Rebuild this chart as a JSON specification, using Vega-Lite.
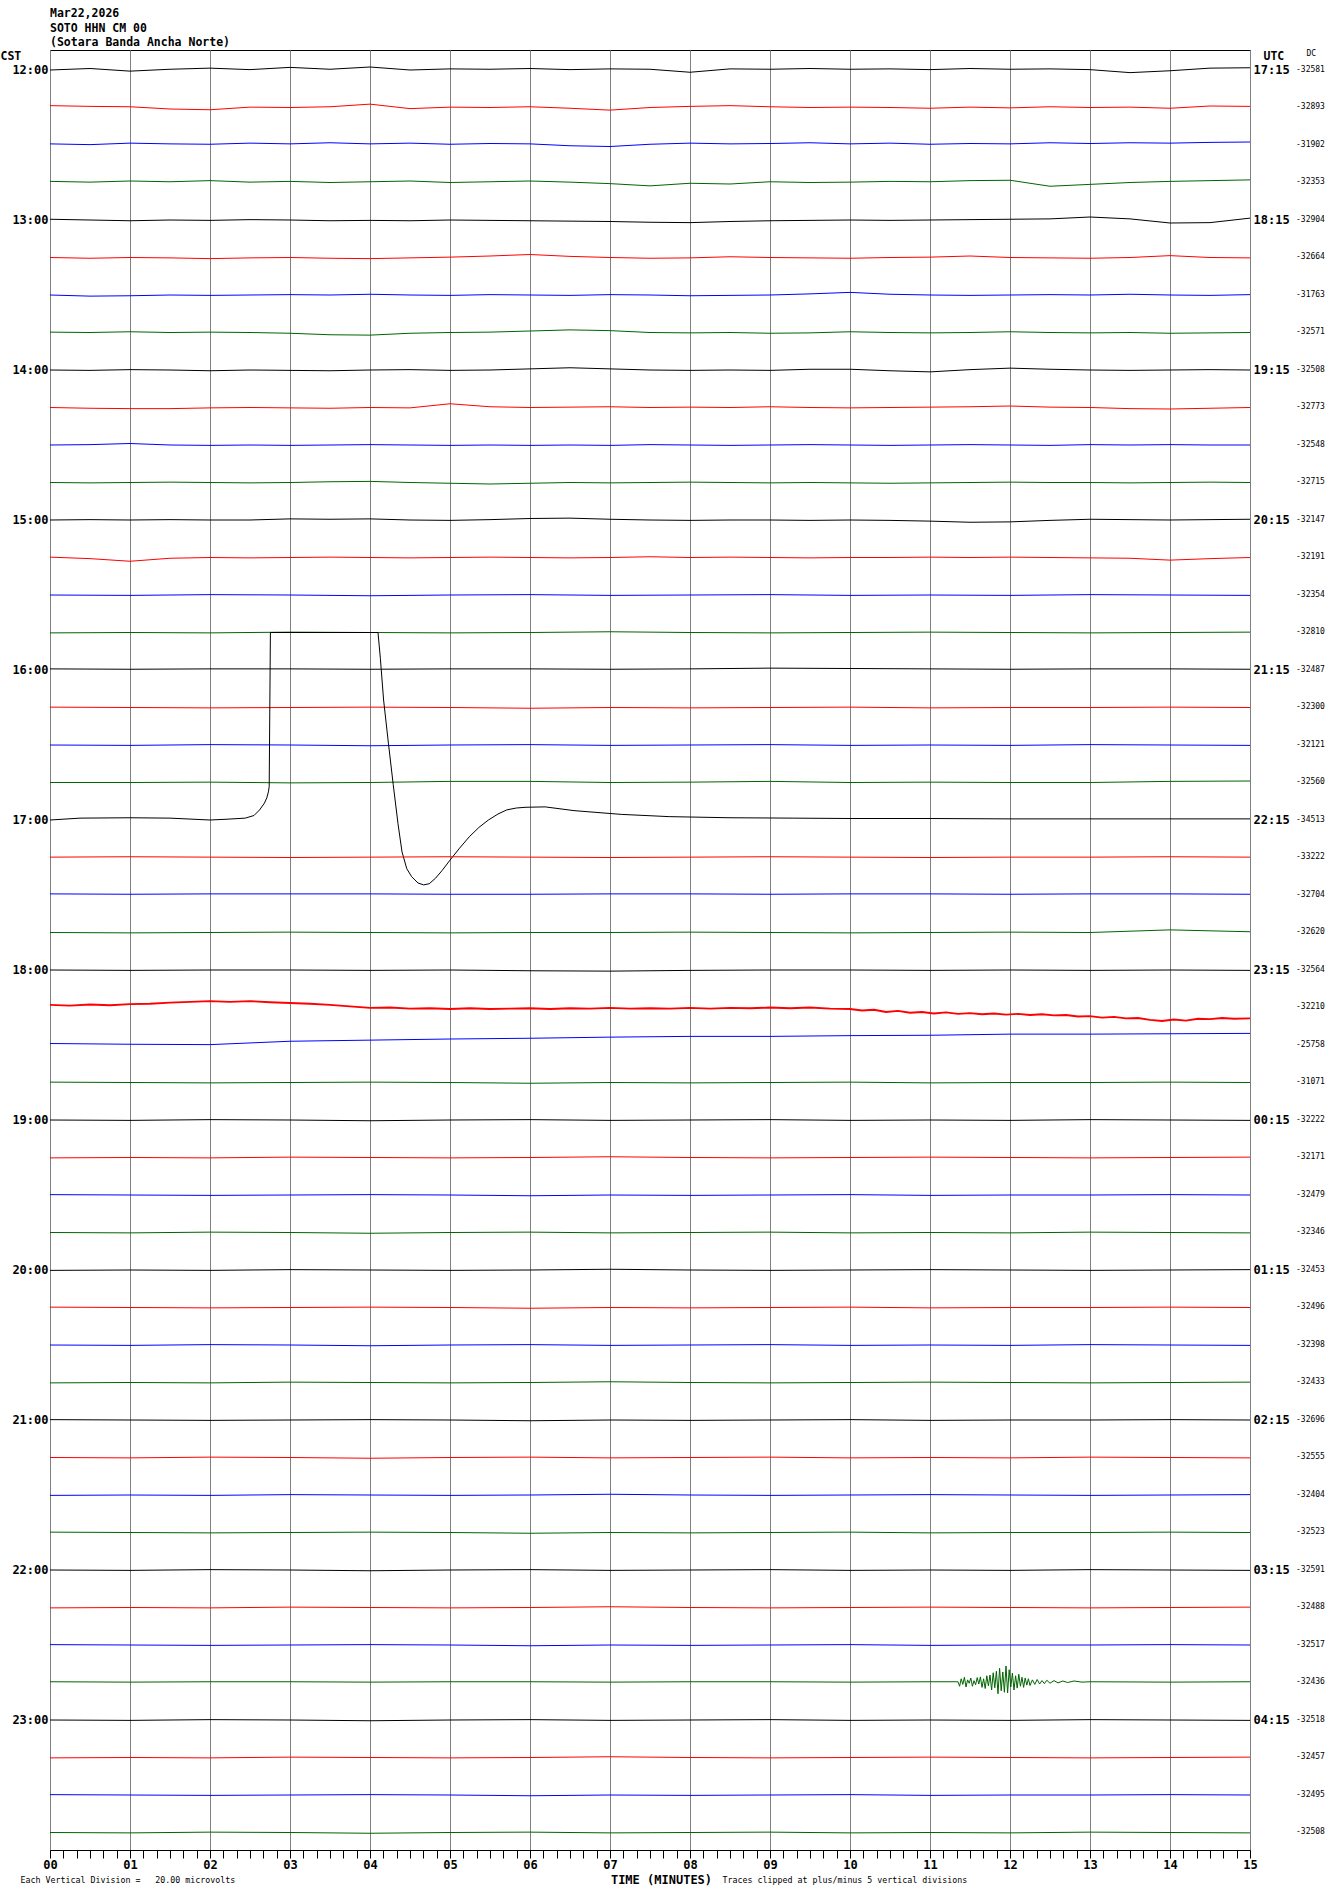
{
"$schema": "https://vega.github.io/schema/vega-lite/v6.json",
"width": 1200,
"height": 1800,
"autosize": {"type": "none"},
"padding": {"left": 50, "top": 50, "right": 80, "bottom": 44},
"background": "white",
"title": {"text": ["Mar22,2026", "SOTO HHN CM 00", "(Sotara Banda Ancha Norte)"], "anchor": "start", "frame": "group", "font": "DejaVu Sans Mono", "fontSize": 11.5, "fontWeight": "bold", "lineHeight": 14.5, "color": "#000000", "offset": 4, "dy": 3},
"config": {"view": {"stroke": "#000000", "strokeWidth": 1}, "font": "DejaVu Sans Mono"},
"resolve": {"axis": {"x": "independent", "y": "independent"}},
"data": {"values": [
{"k":0,"t":0,"y":0},{"k":0,"t":0.5,"y":-0.04},{"k":0,"t":1,"y":0.03},{"k":0,"t":1.5,"y":-0.02},{"k":0,"t":2,"y":-0.05},{"k":0,"t":2.5,"y":-0.01},{"k":0,"t":3,"y":-0.07},{"k":0,"t":3.5,"y":-0.02},{"k":0,"t":4,"y":-0.08},{"k":0,"t":4.5,"y":0},{"k":0,"t":5,"y":-0.03},{"k":0,"t":5.5,"y":-0.02},{"k":0,"t":6,"y":-0.04},{"k":0,"t":6.5,"y":-0.01},{"k":0,"t":7,"y":-0.03},{"k":0,"t":7.5,"y":-0.02},{"k":0,"t":8,"y":0.06},{"k":0,"t":8.5,"y":-0.03},{"k":0,"t":9,"y":-0.02},{"k":0,"t":9.5,"y":-0.04},{"k":0,"t":10,"y":-0.02},{"k":0,"t":10.5,"y":-0.03},{"k":0,"t":11,"y":-0.01},{"k":0,"t":11.5,"y":-0.04},{"k":0,"t":12,"y":-0.02},{"k":0,"t":12.5,"y":-0.03},{"k":0,"t":13,"y":-0.01},{"k":0,"t":13.5,"y":0.07},{"k":0,"t":14,"y":0.02},{"k":0,"t":14.5,"y":-0.05},{"k":0,"t":15,"y":-0.06},
{"k":1,"t":0,"y":0.95},{"k":1,"t":0.5,"y":0.97},{"k":1,"t":1,"y":0.98},{"k":1,"t":1.5,"y":1.04},{"k":1,"t":2,"y":1.06},{"k":1,"t":2.5,"y":0.99},{"k":1,"t":3,"y":1.0},{"k":1,"t":3.5,"y":0.98},{"k":1,"t":4,"y":0.91},{"k":1,"t":4.5,"y":1.03},{"k":1,"t":5,"y":0.99},{"k":1,"t":5.5,"y":1.0},{"k":1,"t":6,"y":0.98},{"k":1,"t":6.5,"y":1.02},{"k":1,"t":7,"y":1.07},{"k":1,"t":7.5,"y":1.0},{"k":1,"t":8,"y":0.97},{"k":1,"t":8.5,"y":0.95},{"k":1,"t":9,"y":0.98},{"k":1,"t":9.5,"y":1.0},{"k":1,"t":10,"y":0.99},{"k":1,"t":10.5,"y":1.0},{"k":1,"t":11,"y":1.02},{"k":1,"t":11.5,"y":0.99},{"k":1,"t":12,"y":1.01},{"k":1,"t":12.5,"y":0.98},{"k":1,"t":13,"y":1.0},{"k":1,"t":13.5,"y":0.99},{"k":1,"t":14,"y":1.02},{"k":1,"t":14.5,"y":0.96},{"k":1,"t":15,"y":0.97},
{"k":2,"t":0,"y":1.97},{"k":2,"t":0.5,"y":1.99},{"k":2,"t":1,"y":1.95},{"k":2,"t":1.5,"y":1.97},{"k":2,"t":2,"y":1.98},{"k":2,"t":2.5,"y":1.95},{"k":2,"t":3,"y":1.97},{"k":2,"t":3.5,"y":1.94},{"k":2,"t":4,"y":1.97},{"k":2,"t":4.5,"y":1.95},{"k":2,"t":5,"y":1.98},{"k":2,"t":5.5,"y":1.96},{"k":2,"t":6,"y":1.97},{"k":2,"t":6.5,"y":2.02},{"k":2,"t":7,"y":2.04},{"k":2,"t":7.5,"y":1.98},{"k":2,"t":8,"y":1.95},{"k":2,"t":8.5,"y":1.97},{"k":2,"t":9,"y":1.96},{"k":2,"t":9.5,"y":1.94},{"k":2,"t":10,"y":1.97},{"k":2,"t":10.5,"y":1.95},{"k":2,"t":11,"y":1.98},{"k":2,"t":11.5,"y":1.96},{"k":2,"t":12,"y":1.97},{"k":2,"t":12.5,"y":1.94},{"k":2,"t":13,"y":1.96},{"k":2,"t":13.5,"y":1.94},{"k":2,"t":14,"y":1.95},{"k":2,"t":14.5,"y":1.93},{"k":2,"t":15,"y":1.92},
{"k":3,"t":0,"y":2.97},{"k":3,"t":0.5,"y":2.99},{"k":3,"t":1,"y":2.96},{"k":3,"t":1.5,"y":2.98},{"k":3,"t":2,"y":2.95},{"k":3,"t":2.5,"y":2.99},{"k":3,"t":3,"y":2.97},{"k":3,"t":3.5,"y":3.0},{"k":3,"t":4,"y":2.98},{"k":3,"t":4.5,"y":2.96},{"k":3,"t":5,"y":3.0},{"k":3,"t":5.5,"y":2.98},{"k":3,"t":6,"y":2.96},{"k":3,"t":6.5,"y":2.99},{"k":3,"t":7,"y":3.03},{"k":3,"t":7.5,"y":3.09},{"k":3,"t":8,"y":3.02},{"k":3,"t":8.5,"y":3.04},{"k":3,"t":9,"y":2.98},{"k":3,"t":9.5,"y":3.0},{"k":3,"t":10,"y":2.99},{"k":3,"t":10.5,"y":2.97},{"k":3,"t":11,"y":2.98},{"k":3,"t":11.5,"y":2.95},{"k":3,"t":12,"y":2.94},{"k":3,"t":12.5,"y":3.1},{"k":3,"t":13,"y":3.05},{"k":3,"t":13.5,"y":3.0},{"k":3,"t":14,"y":2.97},{"k":3,"t":14.5,"y":2.95},{"k":3,"t":15,"y":2.93},
{"k":4,"t":0,"y":3.98},{"k":4,"t":0.5,"y":4.0},{"k":4,"t":1,"y":4.02},{"k":4,"t":1.5,"y":4.0},{"k":4,"t":2,"y":4.01},{"k":4,"t":2.5,"y":3.99},{"k":4,"t":3,"y":4.0},{"k":4,"t":3.5,"y":4.02},{"k":4,"t":4,"y":4.01},{"k":4,"t":4.5,"y":4.02},{"k":4,"t":5,"y":4.0},{"k":4,"t":5.5,"y":4.01},{"k":4,"t":6,"y":4.02},{"k":4,"t":6.5,"y":4.03},{"k":4,"t":7,"y":4.04},{"k":4,"t":7.5,"y":4.06},{"k":4,"t":8,"y":4.07},{"k":4,"t":8.5,"y":4.04},{"k":4,"t":9,"y":4.02},{"k":4,"t":9.5,"y":4.01},{"k":4,"t":10,"y":4.0},{"k":4,"t":10.5,"y":4.01},{"k":4,"t":11,"y":4.0},{"k":4,"t":11.5,"y":3.99},{"k":4,"t":12,"y":3.98},{"k":4,"t":12.5,"y":3.97},{"k":4,"t":13,"y":3.92},{"k":4,"t":13.5,"y":3.97},{"k":4,"t":14,"y":4.08},{"k":4,"t":14.5,"y":4.07},{"k":4,"t":15,"y":3.95},
{"k":5,"t":0,"y":5.0},{"k":5,"t":0.5,"y":5.02},{"k":5,"t":1,"y":5.0},{"k":5,"t":1.5,"y":5.01},{"k":5,"t":2,"y":5.03},{"k":5,"t":2.5,"y":5.01},{"k":5,"t":3,"y":5.0},{"k":5,"t":3.5,"y":5.02},{"k":5,"t":4,"y":5.03},{"k":5,"t":4.5,"y":5.01},{"k":5,"t":5,"y":4.99},{"k":5,"t":5.5,"y":4.96},{"k":5,"t":6,"y":4.92},{"k":5,"t":6.5,"y":4.97},{"k":5,"t":7,"y":5.0},{"k":5,"t":7.5,"y":5.02},{"k":5,"t":8,"y":5.01},{"k":5,"t":8.5,"y":4.98},{"k":5,"t":9,"y":5.0},{"k":5,"t":9.5,"y":5.01},{"k":5,"t":10,"y":5.02},{"k":5,"t":10.5,"y":5.0},{"k":5,"t":11,"y":4.99},{"k":5,"t":11.5,"y":4.96},{"k":5,"t":12,"y":5.0},{"k":5,"t":12.5,"y":5.01},{"k":5,"t":13,"y":5.02},{"k":5,"t":13.5,"y":5.0},{"k":5,"t":14,"y":4.95},{"k":5,"t":14.5,"y":5.0},{"k":5,"t":15,"y":5.01},
{"k":6,"t":0,"y":6.0},{"k":6,"t":0.5,"y":6.03},{"k":6,"t":1,"y":6.02},{"k":6,"t":1.5,"y":6.0},{"k":6,"t":2,"y":6.01},{"k":6,"t":2.5,"y":6.0},{"k":6,"t":3,"y":5.99},{"k":6,"t":3.5,"y":6.0},{"k":6,"t":4,"y":5.98},{"k":6,"t":4.5,"y":6.0},{"k":6,"t":5,"y":6.01},{"k":6,"t":5.5,"y":5.99},{"k":6,"t":6,"y":6.0},{"k":6,"t":6.5,"y":6.01},{"k":6,"t":7,"y":5.99},{"k":6,"t":7.5,"y":6.0},{"k":6,"t":8,"y":6.02},{"k":6,"t":8.5,"y":6.01},{"k":6,"t":9,"y":6.0},{"k":6,"t":9.5,"y":5.97},{"k":6,"t":10,"y":5.93},{"k":6,"t":10.5,"y":5.98},{"k":6,"t":11,"y":6.0},{"k":6,"t":11.5,"y":6.01},{"k":6,"t":12,"y":6.0},{"k":6,"t":12.5,"y":5.99},{"k":6,"t":13,"y":6.0},{"k":6,"t":13.5,"y":5.98},{"k":6,"t":14,"y":6.0},{"k":6,"t":14.5,"y":6.01},{"k":6,"t":15,"y":5.99},
{"k":7,"t":0,"y":6.99},{"k":7,"t":0.5,"y":7.0},{"k":7,"t":1,"y":6.98},{"k":7,"t":1.5,"y":7.0},{"k":7,"t":2,"y":6.99},{"k":7,"t":2.5,"y":7.0},{"k":7,"t":3,"y":7.02},{"k":7,"t":3.5,"y":7.06},{"k":7,"t":4,"y":7.07},{"k":7,"t":4.5,"y":7.02},{"k":7,"t":5,"y":7.0},{"k":7,"t":5.5,"y":6.99},{"k":7,"t":6,"y":6.96},{"k":7,"t":6.5,"y":6.93},{"k":7,"t":7,"y":6.95},{"k":7,"t":7.5,"y":7.0},{"k":7,"t":8,"y":7.01},{"k":7,"t":8.5,"y":7.0},{"k":7,"t":9,"y":7.02},{"k":7,"t":9.5,"y":7.01},{"k":7,"t":10,"y":6.98},{"k":7,"t":10.5,"y":7.0},{"k":7,"t":11,"y":7.01},{"k":7,"t":11.5,"y":7.0},{"k":7,"t":12,"y":6.98},{"k":7,"t":12.5,"y":7.0},{"k":7,"t":13,"y":7.01},{"k":7,"t":13.5,"y":7.0},{"k":7,"t":14,"y":7.02},{"k":7,"t":14.5,"y":7.01},{"k":7,"t":15,"y":7.0},
{"k":8,"t":0,"y":8.0},{"k":8,"t":0.5,"y":8.01},{"k":8,"t":1,"y":7.99},{"k":8,"t":1.5,"y":8.0},{"k":8,"t":2,"y":8.02},{"k":8,"t":2.5,"y":8.0},{"k":8,"t":3,"y":8.01},{"k":8,"t":3.5,"y":8.02},{"k":8,"t":4,"y":8.0},{"k":8,"t":4.5,"y":7.99},{"k":8,"t":5,"y":8.01},{"k":8,"t":5.5,"y":8.0},{"k":8,"t":6,"y":7.97},{"k":8,"t":6.5,"y":7.94},{"k":8,"t":7,"y":7.97},{"k":8,"t":7.5,"y":8.0},{"k":8,"t":8,"y":8.01},{"k":8,"t":8.5,"y":8.0},{"k":8,"t":9,"y":8.01},{"k":8,"t":9.5,"y":7.98},{"k":8,"t":10,"y":7.98},{"k":8,"t":10.5,"y":8.02},{"k":8,"t":11,"y":8.05},{"k":8,"t":11.5,"y":7.99},{"k":8,"t":12,"y":7.95},{"k":8,"t":12.5,"y":7.98},{"k":8,"t":13,"y":8.0},{"k":8,"t":13.5,"y":8.01},{"k":8,"t":14,"y":8.0},{"k":8,"t":14.5,"y":7.99},{"k":8,"t":15,"y":8.0},
{"k":9,"t":0,"y":9.0},{"k":9,"t":0.5,"y":9.02},{"k":9,"t":1,"y":9.03},{"k":9,"t":1.5,"y":9.03},{"k":9,"t":2,"y":9.01},{"k":9,"t":2.5,"y":9.0},{"k":9,"t":3,"y":9.01},{"k":9,"t":3.5,"y":9.02},{"k":9,"t":4,"y":9.0},{"k":9,"t":4.5,"y":9.01},{"k":9,"t":5,"y":8.9},{"k":9,"t":5.5,"y":8.98},{"k":9,"t":6,"y":9.0},{"k":9,"t":6.5,"y":8.99},{"k":9,"t":7,"y":8.98},{"k":9,"t":7.5,"y":9.0},{"k":9,"t":8,"y":8.99},{"k":9,"t":8.5,"y":9.0},{"k":9,"t":9,"y":8.98},{"k":9,"t":9.5,"y":9.0},{"k":9,"t":10,"y":9.01},{"k":9,"t":10.5,"y":9.0},{"k":9,"t":11,"y":8.99},{"k":9,"t":11.5,"y":8.98},{"k":9,"t":12,"y":8.96},{"k":9,"t":12.5,"y":8.99},{"k":9,"t":13,"y":9.0},{"k":9,"t":13.5,"y":9.03},{"k":9,"t":14,"y":9.04},{"k":9,"t":14.5,"y":9.02},{"k":9,"t":15,"y":9.0},
{"k":10,"t":0,"y":10.0},{"k":10,"t":0.5,"y":9.99},{"k":10,"t":1,"y":9.96},{"k":10,"t":1.5,"y":10.0},{"k":10,"t":2,"y":10.01},{"k":10,"t":2.5,"y":10.0},{"k":10,"t":3,"y":10.01},{"k":10,"t":3.5,"y":10.0},{"k":10,"t":4,"y":9.99},{"k":10,"t":4.5,"y":10.0},{"k":10,"t":5,"y":10.01},{"k":10,"t":5.5,"y":10.0},{"k":10,"t":6,"y":10.01},{"k":10,"t":6.5,"y":10.0},{"k":10,"t":7,"y":10.01},{"k":10,"t":7.5,"y":9.99},{"k":10,"t":8,"y":10.0},{"k":10,"t":8.5,"y":10.01},{"k":10,"t":9,"y":10.0},{"k":10,"t":9.5,"y":9.99},{"k":10,"t":10,"y":10.0},{"k":10,"t":10.5,"y":10.01},{"k":10,"t":11,"y":10.0},{"k":10,"t":11.5,"y":9.99},{"k":10,"t":12,"y":10.0},{"k":10,"t":12.5,"y":10.01},{"k":10,"t":13,"y":9.99},{"k":10,"t":13.5,"y":10.0},{"k":10,"t":14,"y":9.99},{"k":10,"t":14.5,"y":10.0},{"k":10,"t":15,"y":10.0},
{"k":11,"t":0,"y":11.0},{"k":11,"t":0.5,"y":11.01},{"k":11,"t":1,"y":11.0},{"k":11,"t":1.5,"y":10.99},{"k":11,"t":2,"y":11.0},{"k":11,"t":2.5,"y":11.01},{"k":11,"t":3,"y":11.0},{"k":11,"t":3.5,"y":10.98},{"k":11,"t":4,"y":10.97},{"k":11,"t":4.5,"y":11.0},{"k":11,"t":5,"y":11.02},{"k":11,"t":5.5,"y":11.04},{"k":11,"t":6,"y":11.02},{"k":11,"t":6.5,"y":11.0},{"k":11,"t":7,"y":11.01},{"k":11,"t":7.5,"y":11.0},{"k":11,"t":8,"y":10.99},{"k":11,"t":8.5,"y":11.0},{"k":11,"t":9,"y":11.01},{"k":11,"t":9.5,"y":11.0},{"k":11,"t":10,"y":11.01},{"k":11,"t":10.5,"y":11.02},{"k":11,"t":11,"y":11.01},{"k":11,"t":11.5,"y":11.0},{"k":11,"t":12,"y":10.99},{"k":11,"t":12.5,"y":11.0},{"k":11,"t":13,"y":11.0},{"k":11,"t":13.5,"y":11.01},{"k":11,"t":14,"y":11.0},{"k":11,"t":14.5,"y":10.99},{"k":11,"t":15,"y":11.0},
{"k":12,"t":0,"y":12.0},{"k":12,"t":0.5,"y":11.99},{"k":12,"t":1,"y":12.0},{"k":12,"t":1.5,"y":11.99},{"k":12,"t":2,"y":12.0},{"k":12,"t":2.5,"y":12.0},{"k":12,"t":3,"y":11.97},{"k":12,"t":3.5,"y":11.98},{"k":12,"t":4,"y":11.97},{"k":12,"t":4.5,"y":12.0},{"k":12,"t":5,"y":12.01},{"k":12,"t":5.5,"y":11.99},{"k":12,"t":6,"y":11.96},{"k":12,"t":6.5,"y":11.95},{"k":12,"t":7,"y":11.98},{"k":12,"t":7.5,"y":12.0},{"k":12,"t":8,"y":12.01},{"k":12,"t":8.5,"y":12.0},{"k":12,"t":9,"y":12.0},{"k":12,"t":9.5,"y":12.01},{"k":12,"t":10,"y":12.0},{"k":12,"t":10.5,"y":12.01},{"k":12,"t":11,"y":12.03},{"k":12,"t":11.5,"y":12.06},{"k":12,"t":12,"y":12.05},{"k":12,"t":12.5,"y":12.01},{"k":12,"t":13,"y":11.98},{"k":12,"t":13.5,"y":11.99},{"k":12,"t":14,"y":12.0},{"k":12,"t":14.5,"y":11.99},{"k":12,"t":15,"y":11.98},
{"k":13,"t":0,"y":12.99},{"k":13,"t":0.5,"y":13.03},{"k":13,"t":1,"y":13.1},{"k":13,"t":1.5,"y":13.02},{"k":13,"t":2,"y":13.0},{"k":13,"t":2.5,"y":13.01},{"k":13,"t":3,"y":13.0},{"k":13,"t":3.5,"y":12.99},{"k":13,"t":4,"y":13.0},{"k":13,"t":4.5,"y":13.01},{"k":13,"t":5,"y":13.0},{"k":13,"t":5.5,"y":12.99},{"k":13,"t":6,"y":13.0},{"k":13,"t":6.5,"y":13.01},{"k":13,"t":7,"y":13.0},{"k":13,"t":7.5,"y":12.98},{"k":13,"t":8,"y":13.0},{"k":13,"t":8.5,"y":12.99},{"k":13,"t":9,"y":13.0},{"k":13,"t":9.5,"y":13.01},{"k":13,"t":10,"y":13.0},{"k":13,"t":10.5,"y":13.0},{"k":13,"t":11,"y":12.99},{"k":13,"t":11.5,"y":13.0},{"k":13,"t":12,"y":12.99},{"k":13,"t":12.5,"y":13.0},{"k":13,"t":13,"y":13.01},{"k":13,"t":13.5,"y":13.02},{"k":13,"t":14,"y":13.07},{"k":13,"t":14.5,"y":13.03},{"k":13,"t":15,"y":13.0},
{"k":14,"t":0,"y":14},{"k":14,"t":1,"y":14.01},{"k":14,"t":2,"y":13.99},{"k":14,"t":3,"y":14},{"k":14,"t":4,"y":14.02},{"k":14,"t":5,"y":14},{"k":14,"t":6,"y":13.99},{"k":14,"t":7,"y":14.01},{"k":14,"t":8,"y":14},{"k":14,"t":9,"y":13.99},{"k":14,"t":10,"y":14.01},{"k":14,"t":11,"y":14},{"k":14,"t":12,"y":14.01},{"k":14,"t":13,"y":13.99},{"k":14,"t":14,"y":14},{"k":14,"t":15,"y":14.01},
{"k":15,"t":0,"y":15.01},{"k":15,"t":1,"y":15},{"k":15,"t":2,"y":15.01},{"k":15,"t":3,"y":14.99},{"k":15,"t":4,"y":15},{"k":15,"t":5,"y":15.01},{"k":15,"t":6,"y":15},{"k":15,"t":7,"y":14.98},{"k":15,"t":8,"y":15},{"k":15,"t":9,"y":15.01},{"k":15,"t":10,"y":15},{"k":15,"t":11,"y":14.99},{"k":15,"t":12,"y":15},{"k":15,"t":13,"y":15.01},{"k":15,"t":14,"y":15},{"k":15,"t":15,"y":14.99},
{"k":16,"t":0,"y":15.97},{"k":16,"t":1,"y":15.98},{"k":16,"t":2,"y":15.97},{"k":16,"t":3,"y":15.97},{"k":16,"t":4,"y":15.98},{"k":16,"t":5,"y":15.97},{"k":16,"t":6,"y":15.97},{"k":16,"t":7,"y":15.98},{"k":16,"t":8,"y":15.97},{"k":16,"t":9,"y":15.95},{"k":16,"t":10,"y":15.96},{"k":16,"t":11,"y":15.97},{"k":16,"t":12,"y":15.98},{"k":16,"t":13,"y":15.97},{"k":16,"t":14,"y":15.97},{"k":16,"t":15,"y":15.98},
{"k":17,"t":0,"y":16.99},{"k":17,"t":1,"y":17},{"k":17,"t":2,"y":17.01},{"k":17,"t":3,"y":17},{"k":17,"t":4,"y":16.99},{"k":17,"t":5,"y":17},{"k":17,"t":6,"y":17.02},{"k":17,"t":7,"y":17},{"k":17,"t":8,"y":17.01},{"k":17,"t":9,"y":17},{"k":17,"t":10,"y":16.99},{"k":17,"t":11,"y":17.01},{"k":17,"t":12,"y":17},{"k":17,"t":13,"y":17},{"k":17,"t":14,"y":16.99},{"k":17,"t":15,"y":17},
{"k":18,"t":0,"y":18},{"k":18,"t":1,"y":18.01},{"k":18,"t":2,"y":17.99},{"k":18,"t":3,"y":18},{"k":18,"t":4,"y":18.02},{"k":18,"t":5,"y":18},{"k":18,"t":6,"y":17.99},{"k":18,"t":7,"y":18.01},{"k":18,"t":8,"y":18},{"k":18,"t":9,"y":17.99},{"k":18,"t":10,"y":18.01},{"k":18,"t":11,"y":18},{"k":18,"t":12,"y":18.01},{"k":18,"t":13,"y":17.99},{"k":18,"t":14,"y":18},{"k":18,"t":15,"y":18.01},
{"k":19,"t":0,"y":19.0},{"k":19,"t":1,"y":19.0},{"k":19,"t":2,"y":18.99},{"k":19,"t":3,"y":19.01},{"k":19,"t":4,"y":19.0},{"k":19,"t":5,"y":18.97},{"k":19,"t":6,"y":18.97},{"k":19,"t":7,"y":19.0},{"k":19,"t":8,"y":18.99},{"k":19,"t":9,"y":18.97},{"k":19,"t":10,"y":19.0},{"k":19,"t":11,"y":18.99},{"k":19,"t":12,"y":19.0},{"k":19,"t":13,"y":19.0},{"k":19,"t":14,"y":18.97},{"k":19,"t":15,"y":18.96},
{"k":20,"t":0,"y":20.0},{"k":20,"t":0.375,"y":19.95},{"k":20,"t":1,"y":19.94},{"k":20,"t":1.5,"y":19.95},{"k":20,"t":2,"y":20.0},{"k":20,"t":2.2,"y":19.98},{"k":20,"t":2.44,"y":19.95},{"k":20,"t":2.55,"y":19.88},{"k":20,"t":2.62,"y":19.73},{"k":20,"t":2.68,"y":19.55},{"k":20,"t":2.71,"y":19.41},{"k":20,"t":2.73,"y":19.25},{"k":20,"t":2.74,"y":19.11},{"k":20,"t":2.755,"y":15.0},{"k":20,"t":4.1,"y":15.0},{"k":20,"t":4.13,"y":15.7},{"k":20,"t":4.17,"y":16.8},{"k":20,"t":4.23,"y":17.95},{"k":20,"t":4.29,"y":19.05},{"k":20,"t":4.35,"y":20.1},{"k":20,"t":4.4,"y":20.85},{"k":20,"t":4.46,"y":21.3},{"k":20,"t":4.52,"y":21.51},{"k":20,"t":4.6,"y":21.68},{"k":20,"t":4.67,"y":21.73},{"k":20,"t":4.74,"y":21.7},{"k":20,"t":4.82,"y":21.55},{"k":20,"t":4.9,"y":21.35},{"k":20,"t":5.0,"y":21.07},{"k":20,"t":5.12,"y":20.75},{"k":20,"t":5.24,"y":20.45},{"k":20,"t":5.36,"y":20.2},{"k":20,"t":5.48,"y":20.0},{"k":20,"t":5.6,"y":19.84},{"k":20,"t":5.71,"y":19.73},{"k":20,"t":5.83,"y":19.68},{"k":20,"t":5.95,"y":19.66},{"k":20,"t":6.19,"y":19.65},{"k":20,"t":6.55,"y":19.75},{"k":20,"t":7.14,"y":19.85},{"k":20,"t":7.74,"y":19.91},{"k":20,"t":8.5,"y":19.94},{"k":20,"t":9.29,"y":19.95},{"k":20,"t":10,"y":19.96},{"k":20,"t":11,"y":19.96},{"k":20,"t":12,"y":19.97},{"k":20,"t":13,"y":19.97},{"k":20,"t":14,"y":19.97},{"k":20,"t":15,"y":19.97},
{"k":21,"t":0,"y":20.99},{"k":21,"t":1,"y":20.98},{"k":21,"t":2,"y":20.99},{"k":21,"t":3,"y":21.0},{"k":21,"t":4,"y":20.99},{"k":21,"t":5,"y":20.98},{"k":21,"t":6,"y":20.99},{"k":21,"t":7,"y":21.0},{"k":21,"t":8,"y":20.99},{"k":21,"t":9,"y":20.98},{"k":21,"t":10,"y":20.99},{"k":21,"t":11,"y":21.0},{"k":21,"t":12,"y":20.99},{"k":21,"t":13,"y":20.99},{"k":21,"t":14,"y":20.98},{"k":21,"t":15,"y":20.99},
{"k":22,"t":0,"y":21.97},{"k":22,"t":1,"y":21.98},{"k":22,"t":2,"y":21.97},{"k":22,"t":3,"y":21.97},{"k":22,"t":4,"y":21.97},{"k":22,"t":5,"y":21.98},{"k":22,"t":6,"y":21.98},{"k":22,"t":7,"y":21.97},{"k":22,"t":8,"y":21.97},{"k":22,"t":9,"y":21.98},{"k":22,"t":10,"y":21.97},{"k":22,"t":11,"y":21.97},{"k":22,"t":12,"y":21.98},{"k":22,"t":13,"y":21.97},{"k":22,"t":14,"y":21.97},{"k":22,"t":15,"y":21.98},
{"k":23,"t":0,"y":23},{"k":23,"t":1,"y":23.01},{"k":23,"t":2,"y":23},{"k":23,"t":3,"y":22.99},{"k":23,"t":4,"y":23},{"k":23,"t":5,"y":23.01},{"k":23,"t":6,"y":23},{"k":23,"t":7,"y":23},{"k":23,"t":8,"y":22.99},{"k":23,"t":9,"y":23},{"k":23,"t":10,"y":23.01},{"k":23,"t":11,"y":23},{"k":23,"t":12,"y":22.99},{"k":23,"t":13,"y":23},{"k":23,"t":14,"y":22.93},{"k":23,"t":15,"y":22.98},
{"k":24,"t":0,"y":24},{"k":24,"t":1,"y":24.01},{"k":24,"t":2,"y":24},{"k":24,"t":3,"y":24},{"k":24,"t":4,"y":24.01},{"k":24,"t":5,"y":24},{"k":24,"t":6,"y":24.02},{"k":24,"t":7,"y":24.03},{"k":24,"t":8,"y":24.01},{"k":24,"t":9,"y":24},{"k":24,"t":10,"y":24},{"k":24,"t":11,"y":24.01},{"k":24,"t":12,"y":24},{"k":24,"t":13,"y":24.01},{"k":24,"t":14,"y":24},{"k":24,"t":15,"y":24.01},
{"k":25,"t":0,"y":24.93},{"k":25,"t":0.25,"y":24.95},{"k":25,"t":0.5,"y":24.92},{"k":25,"t":0.75,"y":24.94},{"k":25,"t":1,"y":24.91},{"k":25,"t":1.25,"y":24.9},{"k":25,"t":1.5,"y":24.87},{"k":25,"t":1.75,"y":24.85},{"k":25,"t":2,"y":24.83},{"k":25,"t":2.25,"y":24.85},{"k":25,"t":2.5,"y":24.83},{"k":25,"t":2.75,"y":24.86},{"k":25,"t":3,"y":24.88},{"k":25,"t":3.25,"y":24.9},{"k":25,"t":3.5,"y":24.93},{"k":25,"t":3.75,"y":24.97},{"k":25,"t":4,"y":25.01},{"k":25,"t":4.25,"y":25.0},{"k":25,"t":4.5,"y":25.03},{"k":25,"t":4.75,"y":25.02},{"k":25,"t":5,"y":25.04},{"k":25,"t":5.25,"y":25.02},{"k":25,"t":5.5,"y":25.04},{"k":25,"t":5.75,"y":25.03},{"k":25,"t":6,"y":25.02},{"k":25,"t":6.25,"y":25.04},{"k":25,"t":6.5,"y":25.02},{"k":25,"t":6.75,"y":25.03},{"k":25,"t":7,"y":25.01},{"k":25,"t":7.25,"y":25.03},{"k":25,"t":7.5,"y":25.02},{"k":25,"t":7.75,"y":25.03},{"k":25,"t":8,"y":25.01},{"k":25,"t":8.25,"y":25.03},{"k":25,"t":8.5,"y":25.01},{"k":25,"t":8.75,"y":25.02},{"k":25,"t":9,"y":25.0},{"k":25,"t":9.25,"y":25.02},{"k":25,"t":9.5,"y":25.0},{"k":25,"t":9.75,"y":25.03},{"k":25,"t":10,"y":25.04},{"k":25,"t":10.15,"y":25.08},{"k":25,"t":10.3,"y":25.06},{"k":25,"t":10.45,"y":25.12},{"k":25,"t":10.6,"y":25.09},{"k":25,"t":10.75,"y":25.14},{"k":25,"t":10.9,"y":25.12},{"k":25,"t":11.05,"y":25.16},{"k":25,"t":11.2,"y":25.13},{"k":25,"t":11.35,"y":25.17},{"k":25,"t":11.5,"y":25.15},{"k":25,"t":11.65,"y":25.18},{"k":25,"t":11.8,"y":25.16},{"k":25,"t":11.95,"y":25.19},{"k":25,"t":12.1,"y":25.17},{"k":25,"t":12.25,"y":25.2},{"k":25,"t":12.4,"y":25.18},{"k":25,"t":12.55,"y":25.21},{"k":25,"t":12.7,"y":25.2},{"k":25,"t":12.85,"y":25.24},{"k":25,"t":13.0,"y":25.23},{"k":25,"t":13.15,"y":25.27},{"k":25,"t":13.3,"y":25.25},{"k":25,"t":13.45,"y":25.29},{"k":25,"t":13.6,"y":25.28},{"k":25,"t":13.75,"y":25.33},{"k":25,"t":13.9,"y":25.36},{"k":25,"t":14.05,"y":25.32},{"k":25,"t":14.2,"y":25.35},{"k":25,"t":14.35,"y":25.3},{"k":25,"t":14.5,"y":25.31},{"k":25,"t":14.65,"y":25.28},{"k":25,"t":14.8,"y":25.3},{"k":25,"t":15,"y":25.29},
{"k":26,"t":0,"y":25.96},{"k":26,"t":1,"y":25.98},{"k":26,"t":2,"y":25.99},{"k":26,"t":3,"y":25.9},{"k":26,"t":4,"y":25.87},{"k":26,"t":5,"y":25.84},{"k":26,"t":6,"y":25.82},{"k":26,"t":7,"y":25.79},{"k":26,"t":8,"y":25.77},{"k":26,"t":9,"y":25.77},{"k":26,"t":10,"y":25.75},{"k":26,"t":11,"y":25.74},{"k":26,"t":12,"y":25.71},{"k":26,"t":13,"y":25.71},{"k":26,"t":14,"y":25.7},{"k":26,"t":15,"y":25.69},
{"k":27,"t":0,"y":26.99},{"k":27,"t":1,"y":27},{"k":27,"t":2,"y":27.01},{"k":27,"t":3,"y":27},{"k":27,"t":4,"y":26.99},{"k":27,"t":5,"y":27},{"k":27,"t":6,"y":27.02},{"k":27,"t":7,"y":27},{"k":27,"t":8,"y":27.01},{"k":27,"t":9,"y":27},{"k":27,"t":10,"y":26.99},{"k":27,"t":11,"y":27.01},{"k":27,"t":12,"y":27},{"k":27,"t":13,"y":27},{"k":27,"t":14,"y":26.99},{"k":27,"t":15,"y":27},
{"k":28,"t":0,"y":28},{"k":28,"t":1,"y":28.01},{"k":28,"t":2,"y":27.99},{"k":28,"t":3,"y":28},{"k":28,"t":4,"y":28.02},{"k":28,"t":5,"y":28},{"k":28,"t":6,"y":27.99},{"k":28,"t":7,"y":28.01},{"k":28,"t":8,"y":28},{"k":28,"t":9,"y":27.99},{"k":28,"t":10,"y":28.01},{"k":28,"t":11,"y":28},{"k":28,"t":12,"y":28.01},{"k":28,"t":13,"y":27.99},{"k":28,"t":14,"y":28},{"k":28,"t":15,"y":28.01},
{"k":29,"t":0,"y":29.01},{"k":29,"t":1,"y":29},{"k":29,"t":2,"y":29.01},{"k":29,"t":3,"y":28.99},{"k":29,"t":4,"y":29},{"k":29,"t":5,"y":29.01},{"k":29,"t":6,"y":29},{"k":29,"t":7,"y":28.98},{"k":29,"t":8,"y":29},{"k":29,"t":9,"y":29.01},{"k":29,"t":10,"y":29},{"k":29,"t":11,"y":28.99},{"k":29,"t":12,"y":29},{"k":29,"t":13,"y":29.01},{"k":29,"t":14,"y":29},{"k":29,"t":15,"y":28.99},
{"k":30,"t":0,"y":29.99},{"k":30,"t":1,"y":30},{"k":30,"t":2,"y":30.01},{"k":30,"t":3,"y":30},{"k":30,"t":4,"y":29.99},{"k":30,"t":5,"y":30},{"k":30,"t":6,"y":30.02},{"k":30,"t":7,"y":30},{"k":30,"t":8,"y":30.01},{"k":30,"t":9,"y":30},{"k":30,"t":10,"y":29.99},{"k":30,"t":11,"y":30.01},{"k":30,"t":12,"y":30},{"k":30,"t":13,"y":30},{"k":30,"t":14,"y":29.99},{"k":30,"t":15,"y":30},
{"k":31,"t":0,"y":31},{"k":31,"t":1,"y":31.01},{"k":31,"t":2,"y":30.99},{"k":31,"t":3,"y":31},{"k":31,"t":4,"y":31.02},{"k":31,"t":5,"y":31},{"k":31,"t":6,"y":30.99},{"k":31,"t":7,"y":31.01},{"k":31,"t":8,"y":31},{"k":31,"t":9,"y":30.99},{"k":31,"t":10,"y":31.01},{"k":31,"t":11,"y":31},{"k":31,"t":12,"y":31.01},{"k":31,"t":13,"y":30.99},{"k":31,"t":14,"y":31},{"k":31,"t":15,"y":31.01},
{"k":32,"t":0,"y":32.01},{"k":32,"t":1,"y":32},{"k":32,"t":2,"y":32.01},{"k":32,"t":3,"y":31.99},{"k":32,"t":4,"y":32},{"k":32,"t":5,"y":32.01},{"k":32,"t":6,"y":32},{"k":32,"t":7,"y":31.98},{"k":32,"t":8,"y":32},{"k":32,"t":9,"y":32.01},{"k":32,"t":10,"y":32},{"k":32,"t":11,"y":31.99},{"k":32,"t":12,"y":32},{"k":32,"t":13,"y":32.01},{"k":32,"t":14,"y":32},{"k":32,"t":15,"y":31.99},
{"k":33,"t":0,"y":32.99},{"k":33,"t":1,"y":33},{"k":33,"t":2,"y":33.01},{"k":33,"t":3,"y":33},{"k":33,"t":4,"y":32.99},{"k":33,"t":5,"y":33},{"k":33,"t":6,"y":33.02},{"k":33,"t":7,"y":33},{"k":33,"t":8,"y":33.01},{"k":33,"t":9,"y":33},{"k":33,"t":10,"y":32.99},{"k":33,"t":11,"y":33.01},{"k":33,"t":12,"y":33},{"k":33,"t":13,"y":33},{"k":33,"t":14,"y":32.99},{"k":33,"t":15,"y":33},
{"k":34,"t":0,"y":34},{"k":34,"t":1,"y":34.01},{"k":34,"t":2,"y":33.99},{"k":34,"t":3,"y":34},{"k":34,"t":4,"y":34.02},{"k":34,"t":5,"y":34},{"k":34,"t":6,"y":33.99},{"k":34,"t":7,"y":34.01},{"k":34,"t":8,"y":34},{"k":34,"t":9,"y":33.99},{"k":34,"t":10,"y":34.01},{"k":34,"t":11,"y":34},{"k":34,"t":12,"y":34.01},{"k":34,"t":13,"y":33.99},{"k":34,"t":14,"y":34},{"k":34,"t":15,"y":34.01},
{"k":35,"t":0,"y":35.01},{"k":35,"t":1,"y":35},{"k":35,"t":2,"y":35.01},{"k":35,"t":3,"y":34.99},{"k":35,"t":4,"y":35},{"k":35,"t":5,"y":35.01},{"k":35,"t":6,"y":35},{"k":35,"t":7,"y":34.98},{"k":35,"t":8,"y":35},{"k":35,"t":9,"y":35.01},{"k":35,"t":10,"y":35},{"k":35,"t":11,"y":34.99},{"k":35,"t":12,"y":35},{"k":35,"t":13,"y":35.01},{"k":35,"t":14,"y":35},{"k":35,"t":15,"y":34.99},
{"k":36,"t":0,"y":35.99},{"k":36,"t":1,"y":36},{"k":36,"t":2,"y":36.01},{"k":36,"t":3,"y":36},{"k":36,"t":4,"y":35.99},{"k":36,"t":5,"y":36},{"k":36,"t":6,"y":36.02},{"k":36,"t":7,"y":36},{"k":36,"t":8,"y":36.01},{"k":36,"t":9,"y":36},{"k":36,"t":10,"y":35.99},{"k":36,"t":11,"y":36.01},{"k":36,"t":12,"y":36},{"k":36,"t":13,"y":36},{"k":36,"t":14,"y":35.99},{"k":36,"t":15,"y":36},
{"k":37,"t":0,"y":37},{"k":37,"t":1,"y":37.01},{"k":37,"t":2,"y":36.99},{"k":37,"t":3,"y":37},{"k":37,"t":4,"y":37.02},{"k":37,"t":5,"y":37},{"k":37,"t":6,"y":36.99},{"k":37,"t":7,"y":37.01},{"k":37,"t":8,"y":37},{"k":37,"t":9,"y":36.99},{"k":37,"t":10,"y":37.01},{"k":37,"t":11,"y":37},{"k":37,"t":12,"y":37.01},{"k":37,"t":13,"y":36.99},{"k":37,"t":14,"y":37},{"k":37,"t":15,"y":37.01},
{"k":38,"t":0,"y":38.01},{"k":38,"t":1,"y":38},{"k":38,"t":2,"y":38.01},{"k":38,"t":3,"y":37.99},{"k":38,"t":4,"y":38},{"k":38,"t":5,"y":38.01},{"k":38,"t":6,"y":38},{"k":38,"t":7,"y":37.98},{"k":38,"t":8,"y":38},{"k":38,"t":9,"y":38.01},{"k":38,"t":10,"y":38},{"k":38,"t":11,"y":37.99},{"k":38,"t":12,"y":38},{"k":38,"t":13,"y":38.01},{"k":38,"t":14,"y":38},{"k":38,"t":15,"y":37.99},
{"k":39,"t":0,"y":38.99},{"k":39,"t":1,"y":39},{"k":39,"t":2,"y":39.01},{"k":39,"t":3,"y":39},{"k":39,"t":4,"y":38.99},{"k":39,"t":5,"y":39},{"k":39,"t":6,"y":39.02},{"k":39,"t":7,"y":39},{"k":39,"t":8,"y":39.01},{"k":39,"t":9,"y":39},{"k":39,"t":10,"y":38.99},{"k":39,"t":11,"y":39.01},{"k":39,"t":12,"y":39},{"k":39,"t":13,"y":39},{"k":39,"t":14,"y":38.99},{"k":39,"t":15,"y":39},
{"k":40,"t":0,"y":40},{"k":40,"t":1,"y":40.01},{"k":40,"t":2,"y":39.99},{"k":40,"t":3,"y":40},{"k":40,"t":4,"y":40.02},{"k":40,"t":5,"y":40},{"k":40,"t":6,"y":39.99},{"k":40,"t":7,"y":40.01},{"k":40,"t":8,"y":40},{"k":40,"t":9,"y":39.99},{"k":40,"t":10,"y":40.01},{"k":40,"t":11,"y":40},{"k":40,"t":12,"y":40.01},{"k":40,"t":13,"y":39.99},{"k":40,"t":14,"y":40},{"k":40,"t":15,"y":40.01},
{"k":41,"t":0,"y":41.01},{"k":41,"t":1,"y":41},{"k":41,"t":2,"y":41.01},{"k":41,"t":3,"y":40.99},{"k":41,"t":4,"y":41},{"k":41,"t":5,"y":41.01},{"k":41,"t":6,"y":41},{"k":41,"t":7,"y":40.98},{"k":41,"t":8,"y":41},{"k":41,"t":9,"y":41.01},{"k":41,"t":10,"y":41},{"k":41,"t":11,"y":40.99},{"k":41,"t":12,"y":41},{"k":41,"t":13,"y":41.01},{"k":41,"t":14,"y":41},{"k":41,"t":15,"y":40.99},
{"k":42,"t":0,"y":41.99},{"k":42,"t":1,"y":42},{"k":42,"t":2,"y":42.01},{"k":42,"t":3,"y":42},{"k":42,"t":4,"y":41.99},{"k":42,"t":5,"y":42},{"k":42,"t":6,"y":42.02},{"k":42,"t":7,"y":42},{"k":42,"t":8,"y":42.01},{"k":42,"t":9,"y":42},{"k":42,"t":10,"y":41.99},{"k":42,"t":11,"y":42.01},{"k":42,"t":12,"y":42},{"k":42,"t":13,"y":42},{"k":42,"t":14,"y":41.99},{"k":42,"t":15,"y":42},
{"k":43,"t":0,"y":42.98},{"k":43,"t":1,"y":42.99},{"k":43,"t":2,"y":42.98},{"k":43,"t":3,"y":42.98},{"k":43,"t":4,"y":42.99},{"k":43,"t":5,"y":42.98},{"k":43,"t":6,"y":42.98},{"k":43,"t":7,"y":42.99},{"k":43,"t":8,"y":42.98},{"k":43,"t":9,"y":42.98},{"k":43,"t":10,"y":42.99},{"k":43,"t":11,"y":42.98},{"k":43,"t":11.35,"y":42.98},{"k":43,"t":11.37,"y":43.1},{"k":43,"t":11.39,"y":42.9},{"k":43,"t":11.41,"y":43.05},{"k":43,"t":11.43,"y":42.86},{"k":43,"t":11.45,"y":43.12},{"k":43,"t":11.47,"y":42.93},{"k":43,"t":11.49,"y":43.02},{"k":43,"t":11.51,"y":42.88},{"k":43,"t":11.53,"y":43.1},{"k":43,"t":11.55,"y":42.95},{"k":43,"t":11.57,"y":43.06},{"k":43,"t":11.59,"y":42.87},{"k":43,"t":11.61,"y":43.04},{"k":43,"t":11.63,"y":42.85},{"k":43,"t":11.65,"y":43.13},{"k":43,"t":11.67,"y":42.9},{"k":43,"t":11.69,"y":43.16},{"k":43,"t":11.71,"y":42.82},{"k":43,"t":11.73,"y":43.09},{"k":43,"t":11.75,"y":42.8},{"k":43,"t":11.77,"y":43.2},{"k":43,"t":11.79,"y":42.74},{"k":43,"t":11.81,"y":43.14},{"k":43,"t":11.83,"y":42.7},{"k":43,"t":11.85,"y":43.3},{"k":43,"t":11.87,"y":42.62},{"k":43,"t":11.89,"y":43.22},{"k":43,"t":11.91,"y":42.72},{"k":43,"t":11.93,"y":43.26},{"k":43,"t":11.95,"y":42.56},{"k":43,"t":11.97,"y":43.28},{"k":43,"t":11.99,"y":42.66},{"k":43,"t":12.01,"y":43.12},{"k":43,"t":12.03,"y":42.75},{"k":43,"t":12.05,"y":43.2},{"k":43,"t":12.07,"y":42.82},{"k":43,"t":12.09,"y":43.15},{"k":43,"t":12.11,"y":42.78},{"k":43,"t":12.13,"y":43.1},{"k":43,"t":12.15,"y":42.86},{"k":43,"t":12.17,"y":43.13},{"k":43,"t":12.19,"y":42.88},{"k":43,"t":12.21,"y":43.07},{"k":43,"t":12.23,"y":42.9},{"k":43,"t":12.25,"y":43.08},{"k":43,"t":12.28,"y":42.93},{"k":43,"t":12.31,"y":43.05},{"k":43,"t":12.34,"y":42.92},{"k":43,"t":12.37,"y":43.04},{"k":43,"t":12.4,"y":42.95},{"k":43,"t":12.43,"y":43.03},{"k":43,"t":12.46,"y":42.94},{"k":43,"t":12.5,"y":43.02},{"k":43,"t":12.55,"y":42.95},{"k":43,"t":12.6,"y":43.01},{"k":43,"t":12.66,"y":42.96},{"k":43,"t":12.72,"y":43.0},{"k":43,"t":12.8,"y":42.96},{"k":43,"t":12.9,"y":42.99},{"k":43,"t":13,"y":42.98},{"k":43,"t":14,"y":42.99},{"k":43,"t":15,"y":42.98},
{"k":44,"t":0,"y":44},{"k":44,"t":1,"y":44.01},{"k":44,"t":2,"y":43.99},{"k":44,"t":3,"y":44},{"k":44,"t":4,"y":44.02},{"k":44,"t":5,"y":44},{"k":44,"t":6,"y":43.99},{"k":44,"t":7,"y":44.01},{"k":44,"t":8,"y":44},{"k":44,"t":9,"y":43.99},{"k":44,"t":10,"y":44.01},{"k":44,"t":11,"y":44},{"k":44,"t":12,"y":44.01},{"k":44,"t":13,"y":43.99},{"k":44,"t":14,"y":44},{"k":44,"t":15,"y":44.01},
{"k":45,"t":0,"y":45.01},{"k":45,"t":1,"y":45},{"k":45,"t":2,"y":45.01},{"k":45,"t":3,"y":44.99},{"k":45,"t":4,"y":45},{"k":45,"t":5,"y":45.01},{"k":45,"t":6,"y":45},{"k":45,"t":7,"y":44.98},{"k":45,"t":8,"y":45},{"k":45,"t":9,"y":45.01},{"k":45,"t":10,"y":45},{"k":45,"t":11,"y":44.99},{"k":45,"t":12,"y":45},{"k":45,"t":13,"y":45.01},{"k":45,"t":14,"y":45},{"k":45,"t":15,"y":44.99},
{"k":46,"t":0,"y":45.99},{"k":46,"t":1,"y":46},{"k":46,"t":2,"y":46.01},{"k":46,"t":3,"y":46},{"k":46,"t":4,"y":45.99},{"k":46,"t":5,"y":46},{"k":46,"t":6,"y":46.02},{"k":46,"t":7,"y":46},{"k":46,"t":8,"y":46.01},{"k":46,"t":9,"y":46},{"k":46,"t":10,"y":45.99},{"k":46,"t":11,"y":46.01},{"k":46,"t":12,"y":46},{"k":46,"t":13,"y":46},{"k":46,"t":14,"y":45.99},{"k":46,"t":15,"y":46},
{"k":47,"t":0,"y":47},{"k":47,"t":1,"y":47.01},{"k":47,"t":2,"y":46.99},{"k":47,"t":3,"y":47},{"k":47,"t":4,"y":47.02},{"k":47,"t":5,"y":47},{"k":47,"t":6,"y":46.99},{"k":47,"t":7,"y":47.01},{"k":47,"t":8,"y":47},{"k":47,"t":9,"y":46.99},{"k":47,"t":10,"y":47.01},{"k":47,"t":11,"y":47},{"k":47,"t":12,"y":47.01},{"k":47,"t":13,"y":46.99},{"k":47,"t":14,"y":47},{"k":47,"t":15,"y":47.01}
]},
"layer": [
{
"mark": {"type": "line", "clip": false},
"encoding": {
"x": {"field": "t", "type": "quantitative", "scale": {"domain": [0, 15], "nice": false, "zero": false},
"axis": {"orient": "bottom", "values": [0,0.1667,0.3333,0.5,0.6667,0.8333,1,1.1667,1.3333,1.5,1.6667,1.8333,2,2.1667,2.3333,2.5,2.6667,2.8333,3,3.1667,3.3333,3.5,3.6667,3.8333,4,4.1667,4.3333,4.5,4.6667,4.8333,5,5.1667,5.3333,5.5,5.6667,5.8333,6,6.1667,6.3333,6.5,6.6667,6.8333,7,7.1667,7.3333,7.5,7.6667,7.8333,8,8.1667,8.3333,8.5,8.6667,8.8333,9,9.1667,9.3333,9.5,9.6667,9.8333,10,10.1667,10.3333,10.5,10.6667,10.8333,11,11.1667,11.3333,11.5,11.6667,11.8333,12,12.1667,12.3333,12.5,12.6667,12.8333,13,13.1667,13.3333,13.5,13.6667,13.8333,14,14.1667,14.3333,14.5,14.6667,14.8333,15],
"labelExpr": "abs(datum.value - round(datum.value)) < 0.01 ? (round(datum.value) < 10 ? '0' + round(datum.value) : '' + round(datum.value)) : ''",
"labelOverlap": false, "labelFlush": false, "labelFont": "DejaVu Sans Mono", "labelFontWeight": "bold", "labelFontSize": 12, "labelColor": "#000000", "labelPadding": 1,
"tickSize": 8, "tickColor": "#000000", "tickWidth": 1, "domain": true, "domainColor": "#000000", "domainWidth": 1,
"grid": true, "gridColor": "#808080", "gridWidth": 1,
"gridOpacity": {"condition": {"test": "abs(datum.value - round(datum.value)) < 0.01", "value": 1}, "value": 0},
"title": "TIME (MINUTES)", "titleFont": "DejaVu Sans Mono", "titleFontWeight": "bold", "titleFontSize": 12, "titleColor": "#000000", "titleX": 611, "titleY": 29, "titleAlign": "center", "titleBaseline": "middle"}},
"y": {"field": "y", "type": "quantitative", "scale": {"domain": [-0.53333, 47.46667], "reverse": true, "nice": false, "zero": false},
"axis": {"orient": "left", "values": [0,4,8,12,16,20,24,28,32,36,40,44],
"labelExpr": "['12:00','13:00','14:00','15:00','16:00','17:00','18:00','19:00','20:00','21:00','22:00','23:00'][round(datum.value/4)]",
"labelFont": "DejaVu Sans Mono", "labelFontWeight": "bold", "labelFontSize": 12, "labelColor": "#000000", "labelPadding": 2, "labelFlush": false, "labelOverlap": false,
"ticks": false, "domain": false, "grid": false,
"title": "CST", "titleAngle": 0, "titleX": -50, "titleY": 6, "titleAlign": "left", "titleBaseline": "middle", "titleFont": "DejaVu Sans Mono", "titleFontWeight": "bold", "titleFontSize": 11.5, "titleColor": "#000000"}},
"color": {"field": "k", "type": "nominal", "scale": {"type": "ordinal", "domain": [0,1,2,3,4,5,6,7,8,9,10,11,12,13,14,15,16,17,18,19,20,21,22,23,24,25,26,27,28,29,30,31,32,33,34,35,36,37,38,39,40,41,42,43,44,45,46,47], "range": ["#000000", "#ff0000", "#0000ff", "#006400"]}, "legend": null},
"strokeWidth": {"condition": {"test": "datum.k == 25", "value": 1.8}, "value": 1}
}
},
{
"data": {"values": [{"k":0,"dc":-32581},{"k":1,"dc":-32893},{"k":2,"dc":-31902},{"k":3,"dc":-32353},{"k":4,"dc":-32904},{"k":5,"dc":-32664},{"k":6,"dc":-31763},{"k":7,"dc":-32571},{"k":8,"dc":-32508},{"k":9,"dc":-32773},{"k":10,"dc":-32548},{"k":11,"dc":-32715},{"k":12,"dc":-32147},{"k":13,"dc":-32191},{"k":14,"dc":-32354},{"k":15,"dc":-32810},{"k":16,"dc":-32487},{"k":17,"dc":-32300},{"k":18,"dc":-32121},{"k":19,"dc":-32560},{"k":20,"dc":-34513},{"k":21,"dc":-33222},{"k":22,"dc":-32704},{"k":23,"dc":-32620},{"k":24,"dc":-32564},{"k":25,"dc":-32210},{"k":26,"dc":-25758},{"k":27,"dc":-31071},{"k":28,"dc":-32222},{"k":29,"dc":-32171},{"k":30,"dc":-32479},{"k":31,"dc":-32346},{"k":32,"dc":-32453},{"k":33,"dc":-32496},{"k":34,"dc":-32398},{"k":35,"dc":-32433},{"k":36,"dc":-32696},{"k":37,"dc":-32555},{"k":38,"dc":-32404},{"k":39,"dc":-32523},{"k":40,"dc":-32591},{"k":41,"dc":-32488},{"k":42,"dc":-32517},{"k":43,"dc":-32436},{"k":44,"dc":-32518},{"k":45,"dc":-32457},{"k":46,"dc":-32495},{"k":47,"dc":-32508}]},
"mark": {"type": "text", "align": "left", "baseline": "middle", "dx": 46, "font": "DejaVu Sans Mono", "fontSize": 8, "color": "#000000"},
"encoding": {
"x": {"datum": 15, "type": "quantitative", "axis": {"orient": "bottom", "labels": false, "ticks": false, "domain": false, "grid": false, "title": "Each Vertical Division =\u00a0\u00a0\u00a020.00 microvolts", "titleX": -30, "titleY": 30, "titleAlign": "left", "titleBaseline": "middle", "titleFont": "DejaVu Sans Mono", "titleFontSize": 8.3, "titleFontWeight": "normal", "titleColor": "#000000"}},
"y": {"field": "k", "type": "quantitative", "axis": {"orient": "right", "values": [0,4,8,12,16,20,24,28,32,36,40,44],
"labelExpr": "['17:15','18:15','19:15','20:15','21:15','22:15','23:15','00:15','01:15','02:15','03:15','04:15'][round(datum.value/4)]",
"labelFont": "DejaVu Sans Mono", "labelFontWeight": "bold", "labelFontSize": 12, "labelColor": "#000000", "labelPadding": 3, "labelAlign": "left", "labelFlush": false, "labelOverlap": false,
"ticks": false, "domain": false, "grid": false,
"title": "UTC", "titleAngle": 0, "titleX": 13, "titleY": 6, "titleAlign": "left", "titleBaseline": "middle", "titleFont": "DejaVu Sans Mono", "titleFontWeight": "bold", "titleFontSize": 11.5, "titleColor": "#000000"}},
"text": {"field": "dc", "type": "nominal"}
}
},
{
"data": {"values": [{"k":0},{"k":47}]},
"mark": {"type": "point", "opacity": 0, "size": 1},
"encoding": {
"x": {"datum": 15, "type": "quantitative", "axis": {"orient": "bottom", "labels": false, "ticks": false, "domain": false, "grid": false, "title": "Traces clipped at plus/minus 5 vertical divisions", "titleX": 672, "titleY": 30, "titleAlign": "left", "titleBaseline": "middle", "titleFont": "DejaVu Sans Mono", "titleFontSize": 8.3, "titleFontWeight": "normal", "titleColor": "#000000"}},
"y": {"field": "k", "type": "quantitative", "axis": {"orient": "right", "labels": false, "ticks": false, "domain": false, "grid": false, "title": "DC", "titleAngle": 0, "titleX": 56, "titleY": 3.5, "titleAlign": "left", "titleBaseline": "middle", "titleFont": "DejaVu Sans Mono", "titleFontWeight": "normal", "titleFontSize": 8, "titleColor": "#000000"}}
}
}
]
}
